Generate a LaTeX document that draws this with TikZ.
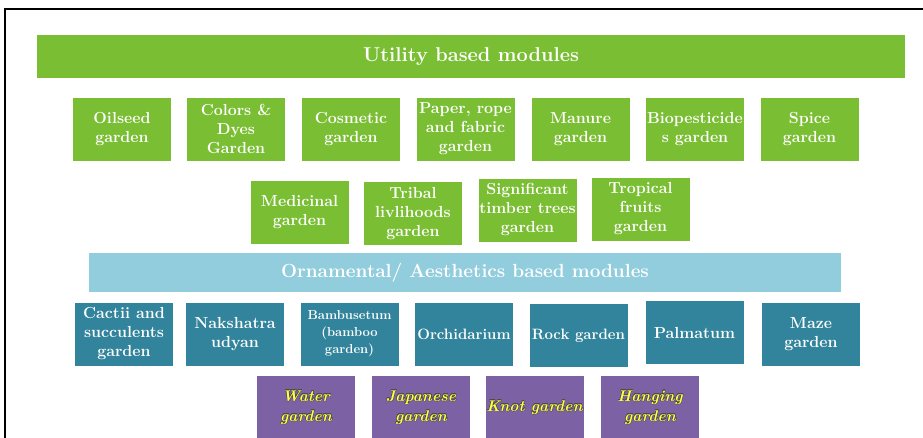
\documentclass[tikz,border=0pt]{standalone}
\usepackage{xcolor}
\usepackage{tikz}
\usepackage{contour}
\usetikzlibrary{positioning}
\definecolor{leafgreen}{RGB}{122,190,52}
\definecolor{skyblue}{RGB}{146,205,221}
\definecolor{tealbox}{RGB}{49,132,155}
\definecolor{violetbox}{RGB}{124,98,164}
\definecolor{lemon}{RGB}{255,255,70}
\contourlength{0.3pt}
\newcommand{\yel}[1]{\contour{black!70}{#1}}

\begin{document}
\begin{tikzpicture}[
  x=1pt, y=-1pt,
  every node/.style={align=center, text=white, inner sep=0pt},
  band/.style={minimum height=#1, font=\fontsize{20}{22}\selectfont\bfseries},
  usebox/.style={fill=leafgreen, minimum width=98pt, minimum height=63pt, font=\fontsize{16}{19}\selectfont\bfseries},
  ornbox/.style={fill=tealbox, minimum width=98pt, minimum height=63pt, font=\fontsize{16}{19}\selectfont\bfseries},
  waterbox/.style={fill=violetbox, minimum width=98pt, minimum height=63pt, text=lemon, font=\fontsize{15.5}{20}\selectfont\bfseries\itshape}
]
  \useasboundingbox (0,0) rectangle (923,437);
  \fill[white] (0,0) rectangle (923,437);

  % outer frame, running off the right and bottom edges
  \draw[line width=1.8pt] (5,445) |- (930,9);

  % Utility band and its modules
  \node[band=43pt, fill=leafgreen, minimum width=868pt] (utility) at (471,56.5) {Utility based modules};

  \node[usebox] (oilseed) at (122,129) {Oilseed\\garden};
  \node[usebox] (dyes) at (236,129) {Colors \&\\Dyes\\Garden};
  \node[usebox] (cosmetic) at (351,129) {Cosmetic\\garden};
  \node[usebox] (paper) at (465.5,129) {Paper, rope\\and fabric\\garden};
  \node[usebox] (manure) at (580.5,129) {Manure\\garden};
  \node[usebox] (biopest) at (695,129) {Biopesticide\\s garden};
  \node[usebox] (spice) at (809.5,129) {Spice\\garden};

  \node[usebox] (medicinal) at (299.5,212) {Medicinal\\garden};
  \node[usebox] (tribal) at (413,213.5) {Tribal\\livlihoods\\garden};
  \node[usebox] (timber) at (527.5,210) {Significant\\timber trees\\garden};
  \node[usebox] (tropical) at (640.5,209) {Tropical\\fruits\\garden};

  % Ornamental band and its modules
  \node[band=39pt, fill=skyblue, minimum width=752pt, font=\fontsize{19}{21}\selectfont\bfseries] (ornament) at (465,272.5) {Ornamental/ Aesthetics based modules};

  \node[ornbox] (cactii) at (124,334) {Cactii and\\succulents\\garden};
  \node[ornbox] (nakshatra) at (235,334) {Nakshatra\\udyan};
  \node[ornbox, font=\fontsize{13}{17}\selectfont\bfseries] (bamboo) at (349.5,334) {Bambusetum\\(bamboo\\garden)};
  \node[ornbox, font=\fontsize{15}{18}\selectfont\bfseries] (orchid) at (464,334) {Orchidarium};
  \node[ornbox, font=\fontsize{15}{18}\selectfont\bfseries] (rock) at (578.5,335.5) {Rock garden};
  \node[ornbox] (palmatum) at (694.5,332.5) {Palmatum};
  \node[ornbox] (maze) at (811,334) {Maze\\garden};

  \node[waterbox] (water) at (306,407.5) {\yel{Water}\\\yel{garden}};
  \node[waterbox] (japanese) at (421,407.5) {\yel{Japanese}\\\yel{garden}};
  \node[waterbox] (knot) at (534.5,407.5) {\yel{Knot garden}};
  \node[waterbox] (hanging) at (650,407.5) {\yel{Hanging}\\\yel{garden}};
\end{tikzpicture}
\end{document}
